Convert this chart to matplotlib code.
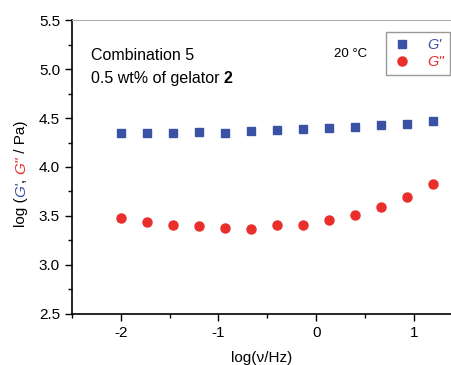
import matplotlib.pyplot as plt
from matplotlib.ticker import MultipleLocator

plt.rcParams['font.family'] = ['Liberation Sans', 'DejaVu Sans']
plt.rcParams['axes.unicode_minus'] = False

# log(frequency / Hz)
log_freq = [-2.0, -1.733, -1.467, -1.2, -0.933, -0.667, -0.4,
            -0.133, 0.133, 0.4, 0.667, 0.933, 1.2]
# log G' and log G'' (Pa)
log_g1 = [4.35, 4.35, 4.35, 4.36, 4.35, 4.367, 4.378,
          4.388, 4.398, 4.408, 4.43, 4.44, 4.466]
log_g2 = [3.483, 3.436, 3.41, 3.398, 3.377, 3.37, 3.41,
          3.408, 3.462, 3.513, 3.588, 3.697, 3.83]

blue = '#3a52a6'
red = '#ea2e2c'
ital = ['Liberation Sans']

fig = plt.figure(figsize=(4.52, 3.65), dpi=100)
ax = fig.add_axes([0.159, 0.140, 0.841, 0.805])

ax.plot(log_freq, log_g1, 's', color=blue, ms=5.5, label="G'")
ax.plot(log_freq, log_g2, 'o', color=red, ms=6.5, label="G''")

ax.set_xlim(-2.5, 1.39)
ax.set_ylim(2.5, 5.5)
ax.xaxis.set_major_locator(MultipleLocator(1))
ax.xaxis.set_minor_locator(MultipleLocator(0.5))
ax.yaxis.set_major_locator(MultipleLocator(0.5))
ax.yaxis.set_minor_locator(MultipleLocator(0.25))
ax.yaxis.set_major_formatter(plt.FormatStrFormatter('%.1f'))
ax.tick_params(which='both', direction='out', labelsize=11, width=1)
ax.tick_params(which='major', length=5)
ax.tick_params(which='minor', length=3)
ax.tick_params(axis='y', which='both', right=False)
ax.tick_params(axis='x', which='both', top=False)
ax.spines['right'].set_visible(False)
ax.spines['top'].set_color('#b0b0b0')
ax.spines['left'].set_linewidth(1.2)
ax.spines['bottom'].set_linewidth(1.2)

ax.set_xlabel('log(ν/Hz)', fontsize=11, labelpad=8)

# multicoloured y label built from pieces
pieces = [('log (', 'black', 'normal'), ("G'", blue, 'italic'),
          (', ', 'black', 'normal'), ("G''", red, 'italic'),
          (' / Pa)', 'black', 'normal')]
prev = fig.text(0.046, 0.378, pieces[0][0], rotation=90, fontsize=11,
                ha='center', va='bottom', color=pieces[0][1])
for s, c, st in pieces[1:]:
    prev = ax.annotate(s, xy=(0.5, 1), xycoords=prev, ha='center', va='bottom',
                       rotation=90, fontsize=11, color=c, style=st,
                       family=ital, annotation_clip=False)

ax.text(0.05, 0.88, 'Combination 5', transform=ax.transAxes, fontsize=11.5,
        va='center')
t = ax.text(0.05, 0.80, '0.5 wt% of gelator', transform=ax.transAxes,
            fontsize=11.5, va='center')
ax.annotate('2', xy=(1, 0.5), xycoords=t, xytext=(3, 0),
            textcoords='offset points', fontsize=11.5, va='center',
            fontweight='bold', annotation_clip=False)
ax.text(0.69, 0.885, '20 °C', transform=ax.transAxes, fontsize=9.5,
        va='center')

leg = ax.legend(loc='upper right', bbox_to_anchor=(0.994, 0.96), fontsize=10.5,
                fancybox=False, edgecolor='#808080', borderpad=0.4,
                borderaxespad=0, handletextpad=1.0, labelspacing=0.25,
                handlelength=1.4)
leg.get_frame().set_linewidth(1)
for t, c in zip(leg.get_texts(), [blue, red]):
    t.set_color(c)
    t.set_style('italic')
    t.set_family(ital)

fig.savefig('out.png', dpi=100)
